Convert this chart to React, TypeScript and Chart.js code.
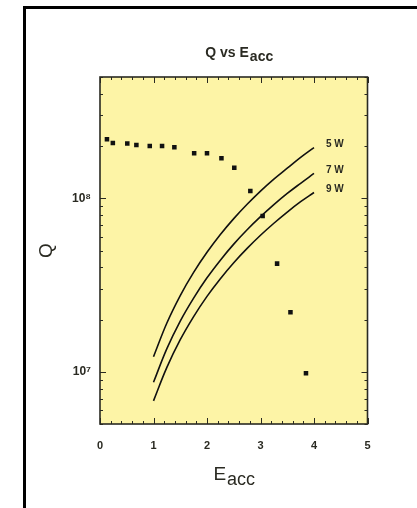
import React, { useEffect, useRef } from 'react';
import { Chart, registerables } from 'chart.js';

Chart.register(...registerables);

// Measured Q vs Eacc (squares)
const E_MEASURED = [0.13, 0.24, 0.51, 0.68, 0.93, 1.16, 1.39, 1.76, 2.0, 2.27, 2.51, 2.81, 3.04, 3.31, 3.56, 3.85];
const Q_MEASURED = [2.19e8, 2.08e8, 2.07e8, 2.03e8, 2.0e8, 2.0e8, 1.97e8, 1.82e8, 1.82e8, 1.7e8, 1.5e8, 1.1e8, 7.9e7, 4.2e7, 2.2e7, 9.8e6];

// Constant-power curves
const E_CURVE = [1, 1.25, 1.5, 1.75, 2, 2.25, 2.5, 2.75, 3, 3.25, 3.5, 3.75, 4];
const Q_5W = [1.22e7, 1.91e7, 2.75e7, 3.74e7, 4.88e7, 6.18e7, 7.63e7, 9.23e7, 1.1e8, 1.29e8, 1.49e8, 1.72e8, 1.96e8];
const Q_7W = [8.7e6, 1.36e7, 1.96e7, 2.66e7, 3.48e7, 4.4e7, 5.44e7, 6.58e7, 7.83e7, 9.19e7, 1.066e8, 1.22e8, 1.39e8];
const Q_9W = [6.8e6, 1.06e7, 1.53e7, 2.08e7, 2.72e7, 3.44e7, 4.25e7, 5.14e7, 6.12e7, 7.18e7, 8.33e7, 9.56e7, 1.08e8];
const CURVE_LABELS = ['5 W', '7 W', '9 W'];

const X_TICK_LABELS = ['0', '1', '2', '3', '4', '5'];
const Y_MAJOR_VALUES = [1e7, 1e8];
const Y_TICK_LABELS = ['10\u2077', '10\u2078'];

const TITLE_MAIN = 'Q vs E';
const TITLE_SUB = 'acc';
const X_TITLE_MAIN = 'E';
const X_TITLE_SUB = 'acc';
const Y_TITLE = 'Q';

const PLOT_BG = '#fdf4a6';
const INK = '#2a2a22';
const FONT = 'Arial, "Liberation Sans", sans-serif';

function drawSub(ctx: CanvasRenderingContext2D, main: string, sub: string, cx: number, baseY: number, mainFont: string, subFont: string, drop: number) {
  ctx.font = mainFont;
  const wm = ctx.measureText(main).width;
  ctx.font = subFont;
  const ws = ctx.measureText(sub).width;
  const x0 = cx - (wm + ws) / 2;
  ctx.textAlign = 'left';
  ctx.textBaseline = 'alphabetic';
  ctx.font = mainFont;
  ctx.fillText(main, x0, baseY);
  ctx.font = subFont;
  ctx.fillText(sub, x0 + wm + 1, baseY + drop);
}

const decor = {
  id: 'decor',
  beforeDraw(chart: any) {
    const { ctx, chartArea: a } = chart;
    ctx.save();
    ctx.fillStyle = '#ffffff';
    ctx.fillRect(0, 0, chart.width, chart.height);
    ctx.fillStyle = PLOT_BG;
    ctx.fillRect(a.left, a.top, a.right - a.left, a.bottom - a.top);
    ctx.fillStyle = '#000000';
    ctx.fillRect(23, 6, chart.width, 3);
    ctx.fillRect(23, 6, 3, chart.height);
    ctx.restore();
  },
  afterDatasetsDraw(chart: any) {
    const { ctx, chartArea: a } = chart;
    const xs = chart.scales.x;
    const ys = chart.scales.y;
    ctx.save();
    ctx.strokeStyle = INK;
    ctx.lineWidth = 1;
    ctx.beginPath();
    for (const t of xs.ticks) {
      const px = Math.round(xs.getPixelForValue(t.value)) + 0.5;
      const major = Math.abs(t.value - Math.round(t.value)) < 1e-6;
      const len = major ? 6 : 3;
      ctx.moveTo(px, a.bottom); ctx.lineTo(px, a.bottom - len);
      ctx.moveTo(px, a.top); ctx.lineTo(px, a.top + len);
    }
    for (const t of ys.ticks) {
      const py = Math.round(ys.getPixelForValue(t.value)) + 0.5;
      const lg = Math.log10(t.value);
      const major = Math.abs(lg - Math.round(lg)) < 1e-6;
      const len = major ? 6 : 3;
      ctx.moveTo(a.left, py); ctx.lineTo(a.left + len, py);
      ctx.moveTo(a.right, py); ctx.lineTo(a.right - len, py);
    }
    ctx.stroke();
    ctx.lineWidth = 1.6;
    ctx.strokeRect(a.left, a.top, a.right - a.left, a.bottom - a.top);

    // curve labels next to curve ends
    ctx.fillStyle = INK;
    ctx.font = `bold 10px ${FONT}`;
    ctx.textAlign = 'left';
    ctx.textBaseline = 'middle';
    [1, 2, 3].forEach((di, i) => {
      const meta = chart.getDatasetMeta(di);
      const last = meta.data[meta.data.length - 1];
      ctx.fillText(CURVE_LABELS[i], last.x + 12, last.y - 3);
    });

    // titles
    const cx = (a.left + a.right) / 2;
    drawSub(ctx, TITLE_MAIN, TITLE_SUB, cx + 5, a.top - 20, `bold 14px ${FONT}`, `bold 14px ${FONT}`, 4);
    drawSub(ctx, X_TITLE_MAIN, X_TITLE_SUB, cx, a.bottom + 56, `19px ${FONT}`, `18px ${FONT}`, 5);
    ctx.save();
    ctx.translate(47, (a.top + a.bottom) / 2);
    ctx.rotate(-Math.PI / 2);
    ctx.font = `19px ${FONT}`;
    ctx.textAlign = 'center';
    ctx.textBaseline = 'middle';
    ctx.fillText(Y_TITLE, 0, 0);
    ctx.restore();
    ctx.restore();
  },
};

export default function App() {
  const ref = useRef<HTMLCanvasElement | null>(null);
  useEffect(() => {
    if (!ref.current) return;
    const curve = (vals: number[]) => ({
      type: 'line' as const,
      data: E_CURVE.map((e, i) => ({ x: e, y: vals[i] })),
      borderColor: '#111111',
      borderWidth: 1.6,
      pointRadius: 0,
      fill: false,
      tension: 0.4,
    });
    const chart = new Chart(ref.current, {
      type: 'scatter',
      data: {
        datasets: [
          {
            type: 'scatter',
            data: E_MEASURED.map((e, i) => ({ x: e, y: Q_MEASURED[i] })),
            pointStyle: 'rect',
            pointRadius: 3.2,
            backgroundColor: '#111111',
            borderColor: '#111111',
            borderWidth: 0,
          } as any,
          curve(Q_5W) as any,
          curve(Q_7W) as any,
          curve(Q_9W) as any,
        ],
      },
      options: {
        animation: false,
        responsive: false,
        layout: { padding: { left: 0, right: 49.5, top: 77, bottom: 0 } },
        plugins: { legend: { display: false }, tooltip: { enabled: false }, title: { display: false } },
        scales: {
          x: {
            type: 'linear',
            min: 0,
            max: 5,
            grid: { display: false, drawTicks: false },
            border: { display: false },
            afterBuildTicks: (s: any) => {
              const t = [];
              for (let i = 0; i <= 25; i++) t.push({ value: Math.round(i * 2) / 10 });
              s.ticks = t;
            },
            afterFit: (s: any) => { s.height = 84; },
            ticks: {
              padding: 15,
              maxRotation: 0,
              autoSkip: false,
              color: INK,
              font: { family: FONT, size: 11, weight: 'bold' },
              callback: (v: any) => {
                const n = Number(v);
                if (Math.abs(n - Math.round(n)) < 1e-6) return X_TICK_LABELS[Math.round(n)] ?? '';
                return '';
              },
            },
          },
          y: {
            type: 'logarithmic',
            min: 5e6,
            max: 5e8,
            grid: { display: false, drawTicks: false },
            border: { display: false },
            afterBuildTicks: (s: any) => {
              const t = [];
              for (let d = 6; d <= 8; d++) {
                for (let m = 1; m <= 9; m++) {
                  const v = m * Math.pow(10, d);
                  if (v >= 5e6 - 1 && v <= 5e8 + 1) t.push({ value: v });
                }
              }
              s.ticks = t;
            },
            afterFit: (s: any) => { s.width = 100; },
            ticks: {
              padding: 9,
              autoSkip: false,
              color: INK,
              font: { family: FONT, size: 12, weight: 'bold' },
              callback: (v: any) => {
                const n = Number(v);
                const idx = Y_MAJOR_VALUES.findIndex((m) => Math.abs(m - n) / m < 1e-6);
                return idx >= 0 ? Y_TICK_LABELS[idx] : '';
              },
            },
          },
        },
      },
      plugins: [decor],
    } as any);
    return () => chart.destroy();
  }, []);
  return (
    <div style={{ position: 'fixed', left: 0, top: 0, width: 417, height: 508, background: '#fff' }}>
      <canvas ref={ref} width={417} height={508} style={{ width: 417, height: 508, display: 'block' }} />
    </div>
  );
}
